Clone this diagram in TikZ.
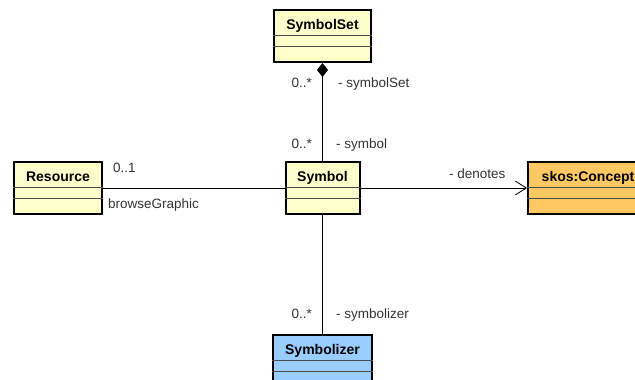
\documentclass[tikz,border=0pt]{standalone}
\usepackage{fontspec}
\setmainfont{Liberation Sans}
\usetikzlibrary{arrows.meta,positioning}
\definecolor{classyellow}{HTML}{FFFFCC}
\definecolor{classorange}{HTML}{FFC862}
\definecolor{classblue}{HTML}{99CCFF}
\tikzset{
  classbox/.style={draw, line width=2pt, minimum height=52pt, inner sep=0pt},
  classname/.style={font=\bfseries\fontsize{14}{16}\selectfont, inner sep=0pt, anchor=base},
  compart/.style={line width=0.9pt, black!70},
  assoc/.style={line width=0.8pt},
  lbl/.style={font=\fontsize{13.5}{15}\selectfont, text=black!80, inner sep=0pt},
}
% class box: name, position, width, fill, title
\newcommand{\umlclass}[5]{%
  \node[classbox, fill=#4, minimum width=#3] (#1) at (#2) {};
  \node[classname] (#1-title) at ([yshift=-20pt]#1.north) {#5};
  \draw[compart] ([yshift=-26pt]#1.north west) -- ([yshift=-26pt]#1.north east);
  \draw[compart] ([yshift=-37pt]#1.north west) -- ([yshift=-37pt]#1.north east);
}

\begin{document}
\begin{tikzpicture}[x=1pt, y=-1pt]
    \useasboundingbox (0,0) rectangle (635,380);
    \begin{scope}
    \clip (0,0) rectangle (635,380);
    \umlclass{symbolset}{322.5,36}{97pt}{classyellow}{SymbolSet}
    \umlclass{resource}{58,188}{88pt}{classyellow}{Resource}
    \umlclass{symbol}{322.5,188}{74pt}{classyellow}{Symbol}
    \umlclass{concept}{588,188}{120pt}{classorange}{skos:Concept}
    \umlclass{symbolizer}{322.5,361}{99pt}{classblue}{Symbolizer}
    % associations
    \draw[assoc, {Diamond[length=14pt, width=11pt]}-] (symbolset.south) -- (symbol.north);
    \draw[assoc] (resource.east) -- (symbol.west);
    \draw[assoc, -{Straight Barb[length=11pt, width=14pt]}] (symbol.east) -- (concept.west);
    \draw[assoc] (symbol.south) -- (symbolizer.north);
    \end{scope}
    % roles and multiplicities
    \node[lbl, anchor=base east] (setmult) at (312,87) {0..*};
    \node[lbl, anchor=base west] (setrole) at (338,87) {- symbolSet};
    \node[lbl, anchor=base east] (symmult) at (312,148) {0..*};
    \node[lbl, anchor=base west] (symrole) at (336,148) {- symbol};
    \node[lbl, anchor=base west] (resmult) at (113,172) {0..1};
    \node[lbl, anchor=base west] (resrole) at (108,208) {browseGraphic};
    \node[lbl, anchor=base west] (conrole) at (449,178) {- denotes};
    \node[lbl, anchor=base east] (szmult) at (312,318) {0..*};
    \node[lbl, anchor=base west] (szrole) at (336,318) {- symbolizer};
\end{tikzpicture}
\end{document}
